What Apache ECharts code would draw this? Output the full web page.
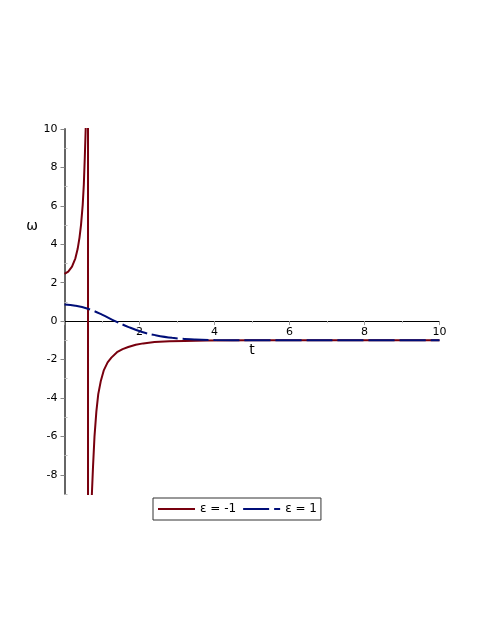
<!DOCTYPE html>
<html>
<head>
<meta charset="utf-8">
<script src="https://cdn.jsdelivr.net/npm/echarts@6/dist/echarts.min.js"></script>
<style>
html,body{margin:0;padding:0;background:#fff;}
#chart{width:482px;height:623px;}
</style>
</head>
<body>
<div id="chart"></div>
<script>
// epsilon = -1 (red), passes through a pole near t = 0.627
const redT = [0, 0.1, 0.2, 0.29, 0.35, 0.4, 0.44, 0.485, 0.515, 0.54, 0.565, 0.6, 0.626,
  0.628, 0.66, 0.70, 0.73, 0.76, 0.8, 0.85, 0.9, 0.97, 1.05, 1.15, 1.25, 1.4, 1.55, 1.7, 1.9, 2.1, 2.4, 2.8, 3.2, 3.8, 5, 6, 8, 10];
const redW = [2.46, 2.58, 2.83, 3.27, 3.75, 4.35, 5.0, 6.04, 7.1, 8.45, 10.0, 40, 500,
  -500, -40, -13, -9, -7.6, -6.0, -4.7, -3.8, -3.1, -2.55, -2.15, -1.9, -1.62, -1.46, -1.35, -1.23, -1.16, -1.09, -1.05, -1.03, -1.01, -1.0, -1.0, -1.0, -1.0];
// epsilon = 1 (blue, dashed)
const blueT = [0, 0.29, 0.6, 1.0, 1.35, 1.71, 2.07, 2.42, 2.87, 3.49, 4, 5, 6, 8, 10];
const blueW = [0.86, 0.80, 0.66, 0.34, 0.0, -0.31, -0.57, -0.73, -0.87, -0.96, -0.985, -0.995, -1.0, -1.0, -1.0];
// ticks
const xTickStep = 2;
const yTickLabels = [-8, -6, -4, -2, 0, 2, 4, 6, 8, 10];
const yMinorTicks = [-9, -7, -5, -3, -1, 1, 3, 5, 7, 9];
const seriesNames = ['ε = -1', 'ε = 1'];

const pairs = (xs, ys) => xs.map((x, i) => [x, ys[i]]);
const FONT = 'DejaVu Sans';
const Y_MIN = -9, Y_MAX = 10, GRID_TOP = 129, GRID_H = 365;
// shift the x axis up so that it sits at omega = 0
const xAxisOffset = -GRID_H * (0 - Y_MIN) / (Y_MAX - Y_MIN);

const chart = echarts.init(document.getElementById('chart'), null, {renderer: 'canvas'});
chart.setOption({
  animation: false,
  backgroundColor: '#ffffff',
  textStyle: {fontFamily: FONT},
  grid: {left: 64.5, top: GRID_TOP, width: 375, height: GRID_H, containLabel: false},
  legend: {
    data: seriesNames,
    left: 153, top: 498,
    orient: 'horizontal',
    itemWidth: 37, itemHeight: 12, itemGap: 6,
    padding: [5, 4, 5, 4],
    borderColor: '#333', borderWidth: 1, borderRadius: 0,
    itemStyle: {color: 'transparent', borderWidth: 0, opacity: 0},
    textStyle: {fontFamily: FONT, fontSize: 12, color: '#000'}
  },
  xAxis: {
    type: 'value', min: 0, max: 10, interval: xTickStep,
    position: 'bottom', offset: xAxisOffset,
    name: 't', nameLocation: 'middle', nameGap: 22,
    nameTextStyle: {fontFamily: FONT, fontSize: 14, color: '#000'},
    axisLine: {show: true, onZero: false, lineStyle: {color: '#000', width: 1}},
    axisTick: {show: true, length: 4, lineStyle: {color: '#999'}},
    minorTick: {show: true, splitNumber: 2, length: 2, lineStyle: {color: '#bbb'}},
    axisLabel: {margin: 6, fontFamily: FONT, fontSize: 11, color: '#000',
      formatter: v => (v === 0 ? '' : String(v))},
    splitLine: {show: false}
  },
  yAxis: [{
    type: 'value', min: Y_MIN, max: Y_MAX,
    axisLine: {show: true, onZero: false, lineStyle: {color: '#666', width: 2}},
    axisTick: {show: true, customValues: yTickLabels, length: 4, lineStyle: {color: '#888'}},
    axisLabel: {customValues: yTickLabels, margin: 7, fontFamily: FONT, fontSize: 11, color: '#000'},
    splitLine: {show: false}
  }, {
    type: 'value', min: Y_MIN, max: Y_MAX, position: 'left',
    axisLine: {show: false, onZero: false},
    axisTick: {show: true, inside: true, customValues: yMinorTicks, length: 3, lineStyle: {color: '#bbb'}},
    axisLabel: {show: false},
    splitLine: {show: false}
  }],
  graphic: [{
    type: 'text', x: 32, y: 226,
    style: {text: 'ω', fontFamily: FONT, fontSize: 14, fill: '#000', textAlign: 'center', textVerticalAlign: 'middle'}
  }],
  series: [{
    name: seriesNames[0], type: 'line', yAxisIndex: 0,
    data: pairs(redT, redW),
    showSymbol: false, symbol: 'none', clip: true, smooth: false,
    lineStyle: {color: '#78000E', width: 2},
    itemStyle: {color: '#78000E'}
  }, {
    name: seriesNames[1], type: 'line', yAxisIndex: 0,
    data: pairs(blueT, blueW),
    showSymbol: false, symbol: 'none', clip: true, smooth: 0.4,
    lineStyle: {color: '#000E78', width: 2, type: [26, 5]},
    itemStyle: {color: '#000E78'}
  }]
});
</script>
</body>
</html>
